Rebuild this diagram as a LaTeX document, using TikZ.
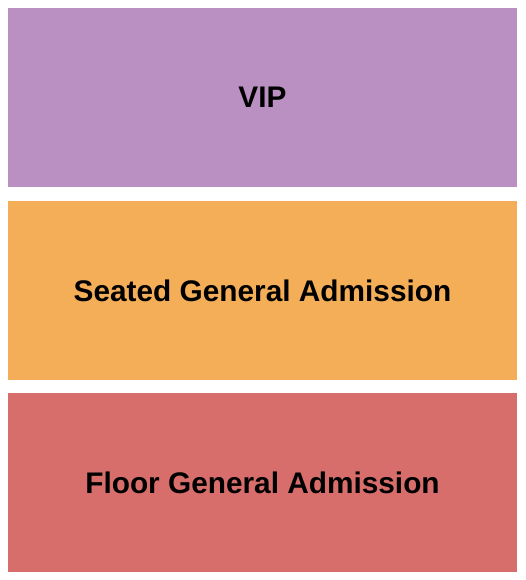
\documentclass[tikz,border=0pt]{standalone}
\usepackage{fontspec}
\setmainfont{Liberation Sans}
\usepackage{xcolor}
\usetikzlibrary{positioning}

\definecolor{vipcol}{HTML}{BA90C2}
\definecolor{seatcol}{HTML}{F3AE57}
\definecolor{floorcol}{HTML}{D86E6C}

\begin{document}
\begin{tikzpicture}[x=1pt, y=-1pt]
            \tikzstyle{section} = [rectangle, inner sep=0pt, minimum width=509pt, minimum height=179pt, font=\fontsize{29.8}{34}\selectfont\bfseries, text=black]

            \useasboundingbox [fill=white] (0,0) rectangle (525,580);

            \node [section, fill=vipcol] (vip) at (262.5,97.5) {VIP};
            \node [section, fill=seatcol] (seated) at (262.5,290.5) {Seated General Admission};
            \node [section, fill=floorcol] (floor) at (262.5,482.5) {Floor General Admission};
        \end{tikzpicture}
\end{document}
